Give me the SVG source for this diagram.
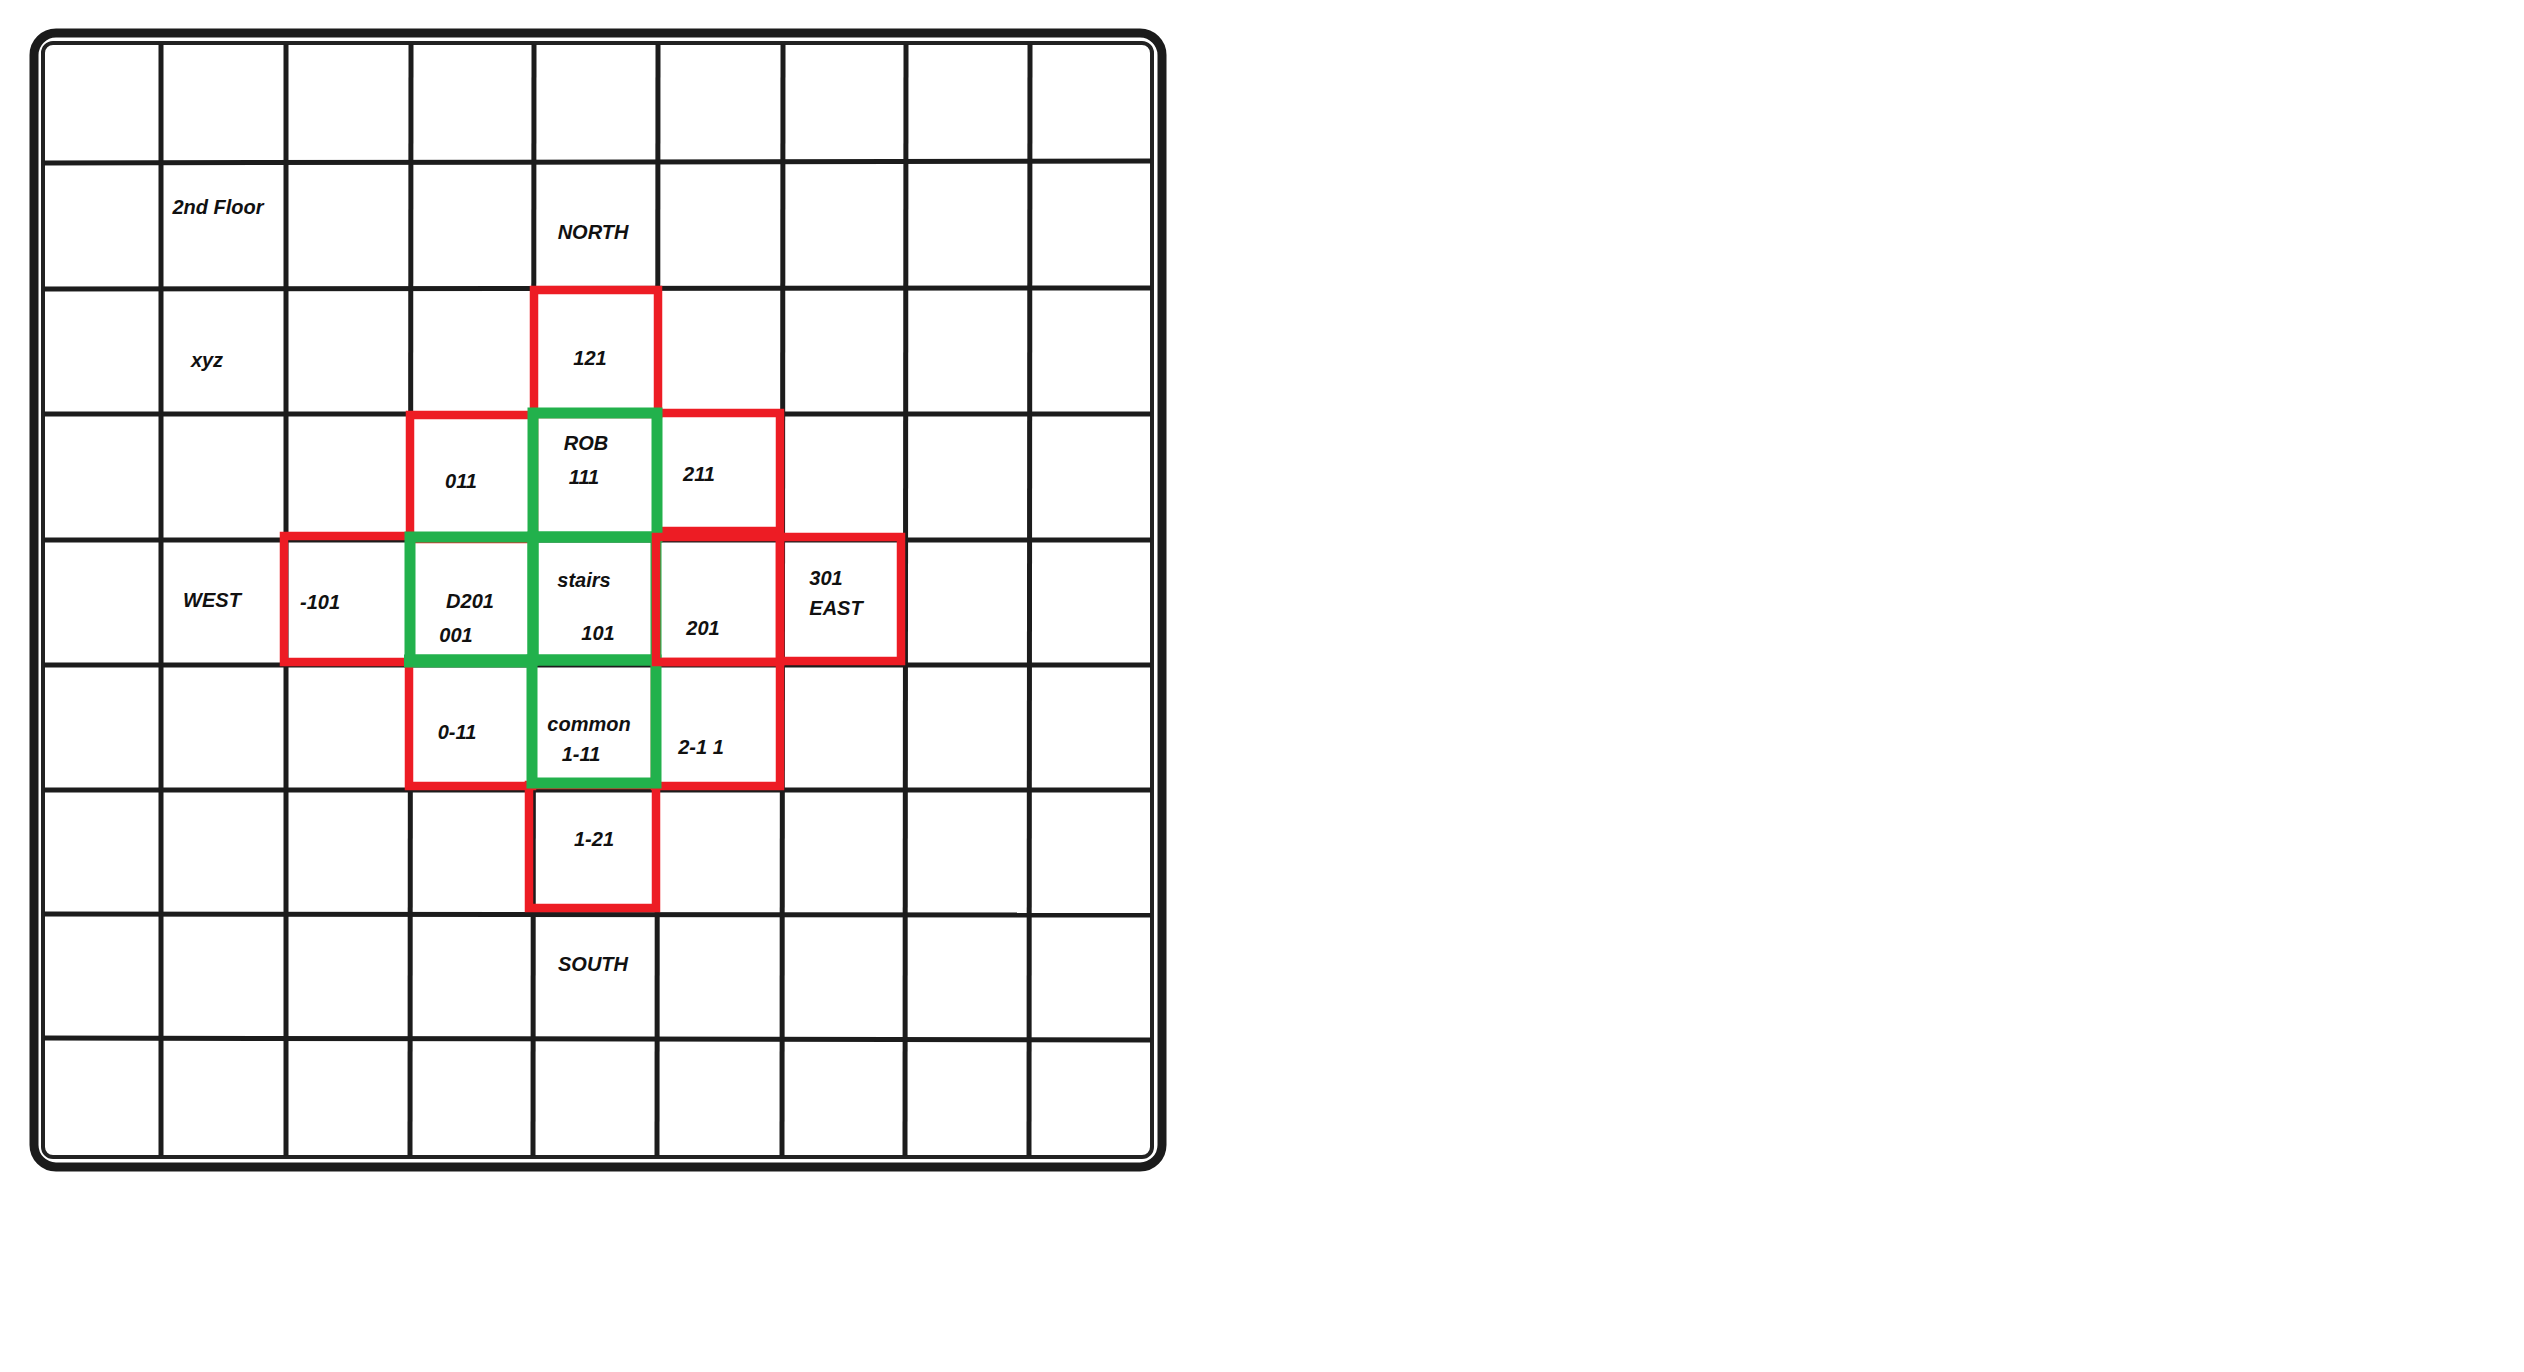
<svg xmlns="http://www.w3.org/2000/svg" width="2524" height="1372" viewBox="0 0 2524 1372">
<style>
.bg{fill:#fff}
.frame{fill:none;stroke:#1b1b1b;stroke-width:9}
.inner{fill:none;stroke:#222;stroke-width:4}
.grid line{stroke:#1c1c1c;stroke-width:5;stroke-linecap:butt}
.red{fill:none;stroke:#ED1C24;stroke-width:8.5}
.green{fill:none;stroke:#22B14C;stroke-width:11}
text{font-family:"Liberation Sans",Arial,sans-serif;font-weight:bold;font-style:italic;font-size:20px;fill:#111;text-anchor:middle}
</style>
<rect class="bg" x="0" y="0" width="2524" height="1372"/>
<g id="grid">
<rect class="frame" x="34" y="33" width="1128" height="1134" rx="22"/>
<rect class="inner" x="43" y="43" width="1109" height="1114" rx="10"/>
<g class="grid">
<line x1="161" y1="44" x2="161" y2="1156"/>
<line x1="286" y1="44" x2="286" y2="1156"/>
<line x1="411" y1="44" x2="410" y2="1156"/>
<line x1="534" y1="44" x2="533" y2="1156"/>
<line x1="658" y1="44" x2="657" y2="1156"/>
<line x1="783" y1="44" x2="782" y2="1156"/>
<line x1="906" y1="44" x2="905" y2="1156"/>
<line x1="1030" y1="44" x2="1029" y2="1156"/>
<line x1="44" y1="163" x2="1151" y2="161"/>
<line x1="44" y1="289" x2="1151" y2="288"/>
<line x1="44" y1="414" x2="1151" y2="414"/>
<line x1="44" y1="540" x2="1151" y2="540"/>
<line x1="44" y1="665" x2="1151" y2="665"/>
<line x1="44" y1="790" x2="1151" y2="790"/>
<line x1="44" y1="914" x2="1151" y2="915"/>
<line x1="44" y1="1038" x2="1151" y2="1040"/>
</g>
</g>
<g id="labels">
<text x="218" y="214">2nd Floor</text>
<text x="593" y="239">NORTH</text>
<text x="207" y="367">xyz</text>
<text x="212" y="607">WEST</text>
<text x="593" y="971">SOUTH</text>
</g>
<g id="connectors"></g>
<g id="n121"><rect class="red" x="534" y="290" width="124" height="124"/><text x="590" y="365">121</text></g>
<g id="n011"><rect class="red" x="410" y="415" width="124" height="124"/><text x="461" y="488">011</text></g>
<g id="n211"><rect class="red" x="657" y="413" width="123" height="118"/><text x="699" y="481">211</text></g>
<g id="nm101"><rect class="red" x="284" y="536" width="126" height="126"/><text x="320" y="609">-101</text></g>
<g id="n0m11"><rect class="red" x="409" y="662" width="123" height="124"/><text x="457" y="739">0-11</text></g>
<g id="n2m11"><rect class="red" x="655" y="662" width="125" height="124"/><text x="701" y="754">2-1 1</text></g>
<g id="n1m21"><rect class="red" x="529" y="785" width="127" height="123"/><text x="594" y="846">1-21</text></g>
<g id="n301"><rect class="red" x="780" y="537" width="121" height="124"/><text x="826" y="585">301</text><text x="836" y="615">EAST</text></g>
<g id="nROB"><rect class="green" x="533" y="413" width="124" height="124"/><text x="586" y="450">ROB</text><text x="584" y="484">111</text></g>
<g id="nD201"><rect class="green" x="410" y="537" width="123" height="123"/><line class="green" x1="404" y1="661" x2="533" y2="661" style="stroke-width:13"/><text x="470" y="608">D201</text><text x="456" y="642">001</text></g>
<g id="nstairs"><rect class="green" x="533" y="537" width="123" height="123"/><text x="584" y="587">stairs</text><text x="598" y="640">101</text></g>
<g id="ncommon"><rect class="green" x="532" y="660" width="124" height="123"/><text x="589" y="731">common</text><text x="581" y="761">1-11</text></g>
<g id="n201"><rect class="red" x="656" y="537" width="124" height="125"/><text x="703" y="635">201</text></g>
</svg>
